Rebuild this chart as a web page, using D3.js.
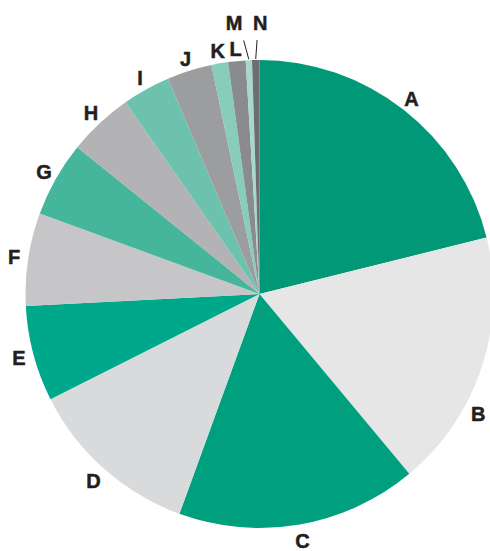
<!DOCTYPE html>
<html>
<head>
<meta charset="utf-8">
<script src="https://cdn.jsdelivr.net/npm/d3@7"></script>
<style>
  html, body { margin: 0; padding: 0; background: #ffffff; }
  svg { display: block; }
  .lbl { font-family: "Liberation Sans", Arial, sans-serif; font-weight: bold; font-size: 20px;
         fill: #231f20; stroke: #231f20; stroke-width: 0.5px; }
</style>
</head>
<body>
<svg id="chart" width="490" height="551"></svg>
<script>
// Slice categories, their shares (%) and fills, clockwise from 12 o'clock
const categories = ["A", "B", "C", "D", "E", "F", "G", "H", "I", "J", "K", "L", "M", "N"];
const values = [21.1, 17.8, 16.6, 12.0, 6.6, 6.4, 5.2, 4.5, 3.3, 3.1, 1.15, 1.2, 0.43, 0.51];
const colors = ["#009877", "#e6e6e6", "#00a07e", "#d9dadc", "#00a88b", "#c6c6c8",
                "#45b59b", "#b3b3b5", "#6cc2ac", "#9c9d9f", "#87cdb9", "#8a8b8d",
                "#a5dacb", "#6d6e70"];

const width = 490, height = 551;
const cx = 259.5, cy = 294, radius = 234;
const outerLabelR = 271;  // radius of labels for tiny slices
const tinyShare = 0.6;    // slices below this get a leader line

// Label distance grows slightly from the top of the pie toward the bottom
const labelRadius = a => 246.5 + 2 * (1 - Math.cos(a));

const svg = d3.select("#chart");
const g = svg.append("g").attr("transform", `translate(${cx},${cy})`);

const data = categories.map((c, i) => ({ cat: c, value: values[i], color: colors[i] }));

const pie = d3.pie().sort(null).value(d => d.value);
const arcs = pie(data);
const arc = d3.arc().innerRadius(0).outerRadius(radius);

g.selectAll("path.slice")
  .data(arcs)
  .join("path")
  .attr("class", "slice")
  .attr("d", arc)
  .attr("fill", d => d.data.color);

const mid = d => (d.startAngle + d.endAngle) / 2;
const polar = (r, a) => [r * Math.sin(a), -r * Math.cos(a)];

// Ordinary labels sit just outside the rim; one that would run past the right edge slides along its circle
const maxX = width - 12 - cx;
const regular = arcs.filter(d => d.data.value >= tinyShare);
regular.forEach(d => {
  let a = mid(d);
  let r = labelRadius(a);
  let [x, y] = polar(r, a);
  if (x > maxX) {
    const s = Math.asin(maxX / r);
    a = a > Math.PI / 2 ? Math.PI - s : s;
    r = labelRadius(a);
    [x, y] = polar(r, a);
  }
  d.lx = x; d.ly = y;
});

// Tiny slices: labels on an outer circle, spread apart horizontally, with leader lines
const tiny = arcs.filter(d => d.data.value < tinyShare);
const gap = 26;
tiny.forEach(d => { [d.lx, d.ly] = polar(outerLabelR, mid(d)); });
const meanX = d3.mean(tiny, d => d.lx) - 4;
tiny.forEach((d, i) => { d.lx = meanX + (i - (tiny.length - 1) / 2) * gap; });

const wrap = a => Math.atan2(Math.sin(a), Math.cos(a));
tiny.forEach(d => {
  const a0 = mid(d);
  const aLabel = Math.atan2(d.lx, -d.ly);
  const a1 = a0 + 0.35 * wrap(aLabel - a0);
  const [x0, y0] = polar(radius + 1, a0);
  const [x1, y1] = polar(254, a1);
  g.append("line")
    .attr("x1", x0).attr("y1", y0).attr("x2", x1).attr("y2", y1)
    .attr("stroke", "#231f20").attr("stroke-width", 1);
});

g.selectAll("text.lbl")
  .data(regular.concat(tiny))
  .join("text")
  .attr("class", "lbl")
  .attr("x", d => d.lx)
  .attr("y", d => d.ly)
  .attr("text-anchor", "middle")
  .attr("dominant-baseline", "central")
  .text(d => d.data.cat);
</script>
</body>
</html>
